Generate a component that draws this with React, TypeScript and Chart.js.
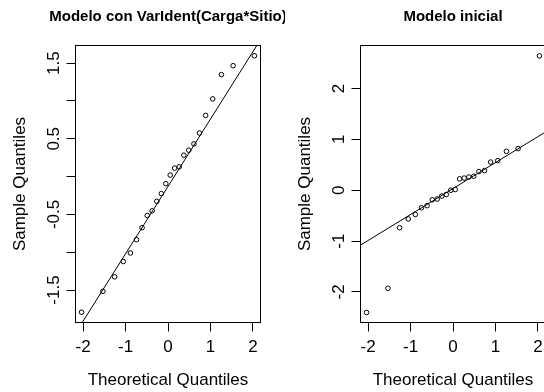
import React, { useEffect, useRef } from "react";
import { Chart, registerables } from "chart.js";

Chart.register(...registerables);

// ---- data ----
const THEORETICAL_QUANTILES = [
  -2.037, -1.534, -1.259, -1.054, -0.887, -0.742, -0.611, -0.489, -0.374, -0.264, -0.157, -0.052,
  0.052, 0.157, 0.264, 0.374, 0.489, 0.611, 0.742, 0.887, 1.054, 1.259, 1.534, 2.037,
];
const SAMPLE_VARIDENT = [
  -1.793, -1.517, -1.325, -1.123, -1.01, -0.834, -0.676, -0.514, -0.453, -0.327, -0.225, -0.094,
  0.02, 0.112, 0.129, 0.283, 0.349, 0.432, 0.576, 0.809, 1.027, 1.348, 1.466, 1.597,
];
const SAMPLE_INICIAL = [
  -2.404, -1.927, -0.737, -0.565, -0.476, -0.345, -0.304, -0.188, -0.173, -0.114, -0.084, 0.0,
  0.014, 0.224, 0.239, 0.259, 0.275, 0.367, 0.386, 0.553, 0.582, 0.765, 0.818, 2.641,
];
const QQLINE_VARIDENT = { intercept: -0.13, slope: 0.89 };
const QQLINE_INICIAL = { intercept: 0.033, slope: 0.51 };

const X_TICKS = [-2, -1, 0, 1, 2];
const Y_TICKS_VARIDENT = [-1.5, -1, -0.5, 0, 0.5, 1, 1.5];
const Y_LABELS_VARIDENT = [-1.5, -0.5, 0.5, 1.5];
const Y_TICKS_INICIAL = [-2, -1, 0, 1, 2];
const Y_LABELS_INICIAL = [-2, -1, 0, 1, 2];

const TITLE_VARIDENT = "Modelo con VarIdent(Carga*Sitio)";
const TITLE_INICIAL = "Modelo inicial";
const X_TITLE = "Theoretical Quantiles";
const Y_TITLE = "Sample Quantiles";

const X_RANGE: [number, number] = [-2.18, 2.18];
const Y_RANGE_VARIDENT: [number, number] = [-1.929, 1.733];
const Y_RANGE_INICIAL: [number, number] = [-2.6, 2.845];

// ---- layout ----
const PANEL_W = 285;
const PANEL_H = 392;
const FONT = '"Liberation Sans", Arial, Helvetica, sans-serif';

Chart.defaults.font.family = FONT;

function makePlugin(title: string, yLabelValues: number[]) {
  return {
    id: "rstyle",
    afterDraw(chart: any) {
      const { ctx, chartArea: a, scales } = chart;
      ctx.save();
      ctx.strokeStyle = "#000";
      ctx.lineWidth = 1;
      ctx.strokeRect(a.left, a.top, a.right - a.left, a.bottom - a.top);

      ctx.fillStyle = "#000";
      ctx.textAlign = "center";
      ctx.textBaseline = "alphabetic";
      const cx = (a.left + a.right) / 2;
      const cy = (a.top + a.bottom) / 2;

      ctx.font = `bold 15px ${FONT}`;
      ctx.fillText(title, cx, 20.5);

      ctx.font = `17px ${FONT}`;
      ctx.fillText(X_TITLE, cx, 384.5);

      ctx.save();
      ctx.translate(24.5, cy);
      ctx.rotate(-Math.PI / 2);
      ctx.fillText(Y_TITLE, 0, 0);
      ctx.restore();

      for (const v of yLabelValues) {
        const py = scales.y.getPixelForValue(v);
        ctx.save();
        ctx.translate(58.5, py);
        ctx.rotate(-Math.PI / 2);
        ctx.fillText(String(v), 0, 0);
        ctx.restore();
      }
      ctx.restore();
    },
  };
}

type PanelProps = {
  left: number;
  title: string;
  sample: number[];
  yRange: [number, number];
  yTicks: number[];
  yLabels: number[];
  line: { intercept: number; slope: number };
};

function Panel({ left, title, sample, yRange, yTicks, yLabels, line }: PanelProps) {
  const ref = useRef<HTMLCanvasElement | null>(null);

  useEffect(() => {
    if (!ref.current) return;
    const points = THEORETICAL_QUANTILES.map((x, i) => ({ x, y: sample[i] }));
    const lineData = X_RANGE.map((x) => ({ x, y: line.intercept + line.slope * x }));
    const chart = new Chart(ref.current, {
      type: "scatter",
      data: {
        datasets: [
          {
            type: "line",
            data: lineData,
            borderColor: "#000",
            borderWidth: 1,
            pointRadius: 0,
            fill: false,
          } as any,
          {
            type: "scatter",
            data: points,
            pointRadius: 2.3,
            pointBorderWidth: 1,
            pointBorderColor: "#000",
            pointBackgroundColor: "rgba(0,0,0,0)",
            showLine: false,
          } as any,
        ],
      },
      options: {
        animation: false,
        responsive: false,
        devicePixelRatio: 1,
        events: [],
        layout: { padding: { top: 45.5, right: 24.5, left: 0, bottom: 0 } },
        plugins: {
          legend: { display: false },
          tooltip: { enabled: false },
          title: { display: false },
        },
        scales: {
          x: {
            type: "linear",
            min: X_RANGE[0],
            max: X_RANGE[1],
            afterBuildTicks: (s: any) => {
              s.ticks = X_TICKS.map((value) => ({ value }));
            },
            afterFit: (s: any) => {
              s.height = 69.5;
            },
            ticks: {
              color: "#000",
              font: { size: 17, family: FONT },
              padding: 6,
              maxRotation: 0,
              minRotation: 0,
              autoSkip: false,
              callback: (v: any) => String(v),
            },
            grid: {
              drawOnChartArea: false,
              drawTicks: true,
              tickLength: 9,
              color: "#000",
              lineWidth: 1,
            },
            border: { display: false },
          },
          y: {
            type: "linear",
            min: yRange[0],
            max: yRange[1],
            afterBuildTicks: (s: any) => {
              s.ticks = yTicks.map((value) => ({ value }));
            },
            afterFit: (s: any) => {
              s.width = 75.5;
            },
            ticks: { display: false, autoSkip: false },
            grid: {
              drawOnChartArea: false,
              drawTicks: true,
              tickLength: 9,
              color: "#000",
              lineWidth: 1,
            },
            border: { display: false },
          },
        },
      },
      plugins: [makePlugin(title, yLabels)],
    } as any);
    return () => chart.destroy();
  }, []);

  return (
    <canvas
      ref={ref}
      width={PANEL_W}
      height={PANEL_H}
      style={{ position: "absolute", left, top: 0, width: PANEL_W, height: PANEL_H }}
    />
  );
}

export default function App() {
  return (
    <div
      style={{
        position: "fixed",
        left: 0,
        top: 0,
        width: 544,
        height: 392,
        overflow: "hidden",
        background: "#fff",
      }}
    >
      <Panel
        left={0}
        title={TITLE_VARIDENT}
        sample={SAMPLE_VARIDENT}
        yRange={Y_RANGE_VARIDENT}
        yTicks={Y_TICKS_VARIDENT}
        yLabels={Y_LABELS_VARIDENT}
        line={QQLINE_VARIDENT}
      />
      <Panel
        left={PANEL_W}
        title={TITLE_INICIAL}
        sample={SAMPLE_INICIAL}
        yRange={Y_RANGE_INICIAL}
        yTicks={Y_TICKS_INICIAL}
        yLabels={Y_LABELS_INICIAL}
        line={QQLINE_INICIAL}
      />
    </div>
  );
}
